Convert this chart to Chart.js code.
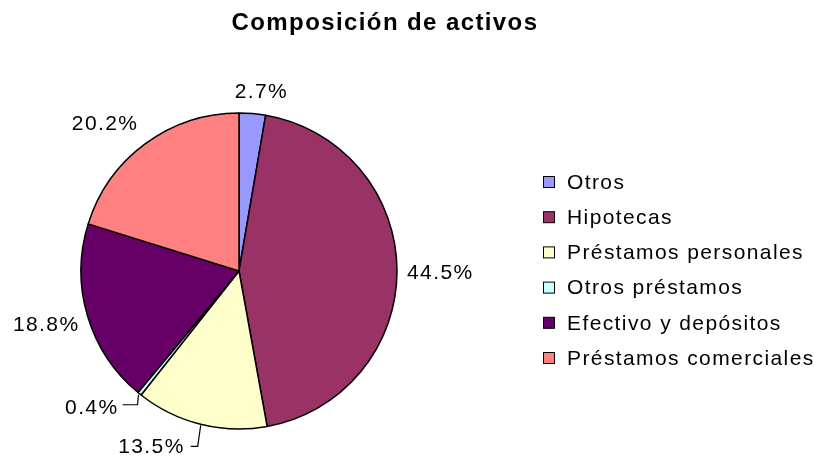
<!DOCTYPE html>
<html>
<head>
<meta charset="utf-8">
<script src="https://cdn.jsdelivr.net/npm/chart.js@4/dist/chart.umd.min.js"></script>
<style>
  html, body { margin: 0; padding: 0; background: #fff; }
  #wrap { width: 814px; height: 462px; position: relative; }
</style>
</head>
<body>
<div id="wrap"><canvas id="c" width="814" height="462"></canvas></div>
<script>
const titleText = 'Composición de activos';
const categories = ['Otros', 'Hipotecas', 'Préstamos personales', 'Otros préstamos', 'Efectivo y depósitos', 'Préstamos comerciales'];
const values = [2.7, 44.5, 13.5, 0.4, 18.8, 20.2];
const valueLabels = ['2.7%', '44.5%', '13.5%', '0.4%', '18.8%', '20.2%'];
const colors = ['#9999FF', '#993366', '#FFFFCC', '#CCFFFF', '#660066', '#FF8080'];

// label placement relative to each slice's outer mid-point
const labelPlacement = [
  { dx: 9,   dy: -21, align: 'center', leader: null },
  { dx: 10,  dy: 3,   align: 'left',   leader: null },
  { dx: -16, dy: 23,  align: 'right',  leader: [[0, 1], [-3, 22], [-10, 22]] },
  { dx: -21, dy: 14,  align: 'right',  leader: [[-1, 1], [-2, 11], [-17, 11]] },
  { dx: -8,  dy: 9,   align: 'right',  leader: null },
  { dx: -7,  dy: -19, align: 'right',  leader: null }
];

const FONT = '21px "Liberation Sans", Arial, sans-serif';

const overlay = {
  id: 'overlay',
  afterDatasetsDraw(chart) {
    const ctx = chart.ctx;
    const meta = chart.getDatasetMeta(0);
    ctx.save();
    // title
    ctx.fillStyle = '#000';
    ctx.font = 'bold 24px "Liberation Sans", Arial, sans-serif';
    ctx.letterSpacing = '1.4px';
    ctx.textAlign = 'center';
    ctx.textBaseline = 'middle';
    ctx.fillText(titleText, 385, 23);

    // slice labels
    ctx.font = FONT;
    ctx.letterSpacing = '1.4px';
    meta.data.forEach((arc, i) => {
      const p = arc.getProps(['x', 'y', 'startAngle', 'endAngle', 'outerRadius'], true);
      const mid = (p.startAngle + p.endAngle) / 2;
      const ax = p.x + Math.cos(mid) * p.outerRadius;
      const ay = p.y + Math.sin(mid) * p.outerRadius;
      const lp = labelPlacement[i];
      if (lp.leader) {
        ctx.strokeStyle = '#000';
        ctx.lineWidth = 1.2;
        ctx.beginPath();
        lp.leader.forEach((pt, k) => {
          const x = ax + pt[0], y = ay + pt[1];
          if (k === 0) ctx.moveTo(x, y); else ctx.lineTo(x, y);
        });
        ctx.stroke();
      }
      ctx.textAlign = lp.align;
      ctx.textBaseline = 'middle';
      ctx.fillText(valueLabels[i], ax + lp.dx, ay + lp.dy);
    });

    // legend
    categories.forEach((name, i) => {
      const cy = 182 + 35.2 * i;
      ctx.fillStyle = colors[i];
      ctx.fillRect(543.5, cy - 5.5, 11, 11);
      ctx.strokeStyle = '#000';
      ctx.lineWidth = 1;
      ctx.strokeRect(543.5, cy - 5.5, 11, 11);
      ctx.fillStyle = '#000';
      ctx.textAlign = 'left';
      ctx.textBaseline = 'middle';
      ctx.fillText(name, 567, cy + 1);
    });
    ctx.restore();
  }
};

new Chart(document.getElementById('c'), {
  type: 'pie',
  data: {
    labels: categories,
    datasets: [{
      data: values,
      backgroundColor: colors,
      borderColor: '#000',
      borderWidth: 1.5,
      hoverOffset: 0,
      radius: 158
    }]
  },
  options: {
    responsive: false,
    animation: false,
    events: [],
    layout: { padding: { left: 80, right: 416, top: 113, bottom: 33 } },
    plugins: {
      legend: { display: false },
      title: { display: false },
      tooltip: { enabled: false }
    }
  },
  plugins: [overlay]
});
</script>
</body>
</html>
